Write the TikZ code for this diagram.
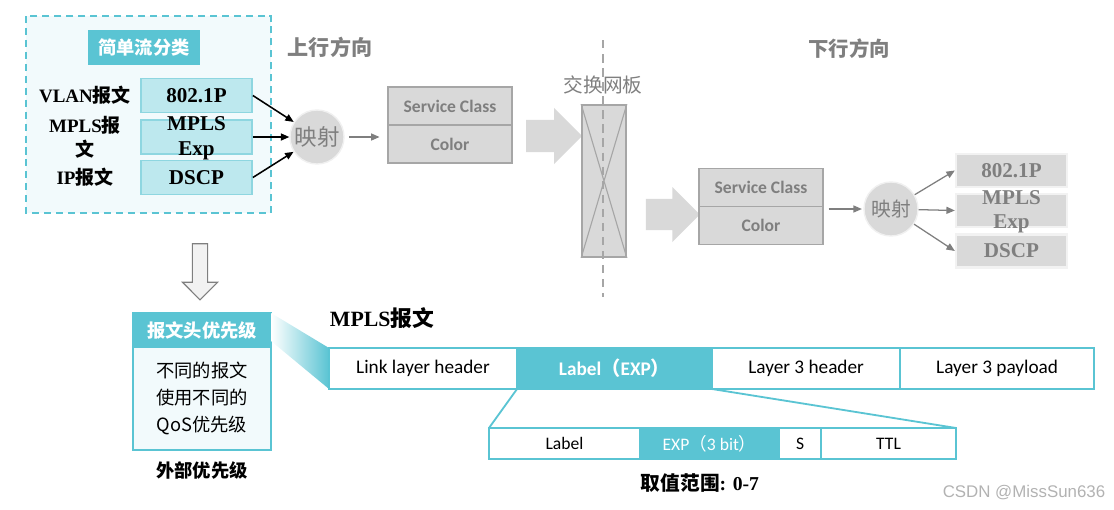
\documentclass[tikz,border=0pt]{standalone}
\usepackage{fontspec}
\usepackage{tikz}
\usetikzlibrary{shapes.geometric, shapes.arrows, arrows.meta, positioning, calc}
\setmainfont{Liberation Serif}
\newfontfamily\zhfont{Noto Sans CJK SC}
\newfontfamily\calfont{Carlito}
\newfontfamily\wmfont{Liberation Sans}
\definecolor{QosTeal}{HTML}{5AC4D3}
\definecolor{PaleTeal}{HTML}{BDE8EE}
\definecolor{EdgeTeal}{HTML}{8ED6E0}
\definecolor{IceBlue}{HTML}{F2FAFC}
\definecolor{SoftGray}{HTML}{D9D9D9}
\definecolor{LineGray}{HTML}{A6A6A6}
\definecolor{TextGray}{HTML}{7F7F7F}
\newcommand{\fsz}[2]{\fontsize{#1pt}{#2pt}\selectfont}
\newcommand{\twoline}[2]{\smash{\raisebox{-4.5pt}{\begin{tabular}{@{}c@{}}#1\\#2\end{tabular}}}}
\tikzset{
    inpkt/.style={font=\fsz{13.5}{17}\bfseries},
    classbox/.style={draw=EdgeTeal, line width=1.2pt, fill=PaleTeal, minimum width=2.775cm,
                     minimum height=0.85cm, inner sep=0pt, font=\fsz{15}{17.5}\bfseries},
    outbox/.style={draw=gray!10, line width=1.6pt, fill=SoftGray, text=TextGray, minimum width=2.775cm,
                   minimum height=0.825cm, inner sep=0pt, font=\fsz{15}{17}\bfseries},
    scbox/.style={draw=LineGray, line width=1pt, fill=SoftGray, text=TextGray, minimum width=3.1cm,
                  minimum height=0.95cm, inner sep=0pt, outer sep=0pt, font=\calfont\fsz{12.5}{12.5}\bfseries},
    mapper/.style={circle, fill=SoftGray, draw=gray!12, line width=1pt, minimum size=1.35cm,
                   inner sep=0pt, text=TextGray, font=\zhfont\fsz{16}{16}},
    blockarrow/.style={single arrow, fill=SoftGray, inner xsep=0pt, minimum height=1.4cm, minimum width=1.4cm},
    field/.style={draw=QosTeal, line width=1.3pt, minimum height=1.025cm, inner sep=0pt, outer sep=0pt,
                  font=\calfont\fsz{13.7}{13.7}},
    subfield/.style={field, minimum height=0.775cm, font=\calfont\fsz{12.5}{12.5}},
    link/.style={-{Triangle[length=6pt,width=5pt]}, line width=1.1pt},
    graylink/.style={link, TextGray, line width=0.9pt},
}

\begin{document}
\begin{tikzpicture}[x=0.025cm, y=-0.025cm]
    \useasboundingbox (0,0) rectangle (1114,509);

    % Simple traffic classification
    \draw[QosTeal, line width=1.4pt, dash pattern=on 5pt off 3.5pt, fill=IceBlue] (26,16) rectangle (271,213);
    \node[fill=QosTeal, text=white, minimum width=2.8cm, minimum height=0.875cm,
          font=\zhfont\fsz{13}{13}\bfseries] (clshead) at (144,47.5) {简单流分类};

    \node[inpkt] (vlanpkt) at (85,95.5) {VLAN{\zhfont 报文}};
    \node[inpkt, align=center] (mplspkt) at (85,137) {MPLS{\zhfont 报}\\{\zhfont 文}};
    \node[inpkt] (ippkt) at (85,177.5) {IP{\zhfont 报文}};

    \node[classbox] (dotp) at (196.5,95.5) {802.1P};
    \node[classbox] (mplsexp) at (196.5,137) {\twoline{MPLS}{Exp}};
    \node[classbox] (dscp) at (196.5,177.5) {DSCP};

    % Upstream mapping
    \node[mapper] (mapup) at (317,137) {映射};
    \draw[link] (dotp.east) -- (mapup);
    \draw[link] (mplsexp.east) -- (mapup);
    \draw[link] (dscp.east) -- (mapup);

    \node[text=TextGray, font=\zhfont\fsz{15}{15}\bfseries] (upname) at (330,47) {上行方向};
    \node[scbox] (scup) at (450,106) {Service Class};
    \node[scbox, below=0pt of scup] (colorup) {Color};
    \draw[graylink, shorten <=3pt, shorten >=6pt] (mapup.east) -- (mapup.east -| colorup.west);

    % Switch fabric
    \node[blockarrow, inner ysep=0.3375cm] (pushup) at (546,136) {};
    \node[text=TextGray, font=\zhfont\fsz{14}{14}] (fabricname) at (603,85) {交换网板};
    \node[draw=LineGray, line width=1.2pt, fill=SoftGray, minimum width=1.1cm, minimum height=3.8cm,
          inner sep=0pt] (fabric) at (604,181) {};
    \draw[LineGray, line width=0.8pt] (fabric.north west) -- (fabric.south east)
                                      (fabric.north east) -- (fabric.south west);
    \coordinate (divtop) at (603,40);
    \coordinate (divbot) at (603,297);
    \draw[LineGray, line width=1.1pt, dash pattern=on 6pt off 4pt] (divtop) -- (divbot);
    \node[blockarrow, inner ysep=0.325cm, minimum height=1.35cm, minimum width=1.375cm] (pushdown) at (665,214.5) {};

    % Downstream mapping
    \node[text=TextGray, font=\zhfont\fsz{14.5}{14.5}\bfseries] (downname) at (849,49) {下行方向};
    \node[scbox] (scdown) at (761,187.5) {Service Class};
    \node[scbox, below=0pt of scdown] (colordown) {Color};
    \node[mapper, font=\zhfont\fsz{14}{14}] (mapdown) at (891,209) {映射};
    \draw[graylink, shorten <=4pt, shorten >=1pt] (scdown.south east |- mapdown) -- (mapdown);

    \node[outbox] (outdotp) at (1011.5,170.5) {802.1P};
    \node[outbox] (outexp) at (1011.5,210.5) {\twoline{MPLS}{Exp}};
    \node[outbox] (outdscp) at (1011.5,251) {DSCP};
    \draw[graylink] (mapdown) -- (outdotp.west);
    \draw[graylink] (mapdown) -- (outexp.west);
    \draw[graylink] (mapdown) -- (outdscp.west);

    % Header priority
    \node[single arrow, draw=TextGray, fill=gray!10, line width=0.8pt, rotate=-90, minimum height=1.4cm,
          minimum width=0.8cm, inner xsep=0pt, inner ysep=0.175cm] (todetail) at (200,268) {};
    \node[draw=QosTeal, line width=1.3pt, fill=QosTeal, text=white, minimum width=3.45cm, minimum height=0.85cm,
          outer sep=0pt, font=\zhfont\fsz{13}{13}\bfseries] (prihead) at (202,330) {报文头优先级};
    \node[draw=QosTeal, line width=1.3pt, fill=IceBlue, minimum width=3.45cm, minimum height=2.575cm,
          outer sep=0pt, below=0pt of prihead, align=center, font=\zhfont\fsz{13}{19.2}] (pribody) {不同的报文\\使用不同的\\QoS优先级};
    \node[font=\zhfont\fsz{13}{13}\bfseries] (extpri) at (202,470) {外部优先级};

    % MPLS packet layout
    \node[anchor=west, font=\fsz{15.5}{15.5}\bfseries] (mplsname) at (325,318) {MPLS{\zhfont 报文}};
    \shade[left color=white, right color=QosTeal] (prihead.north east) -- (329,348) -- (329,389) -- (271,341) -- cycle;
    \node[field, minimum width=4.7cm] (linkhdr) at (423,368.5) {Link layer header};
    \node[field, fill=QosTeal, text=white, minimum width=4.875cm, right=0pt of linkhdr,
          font=\calfont\fsz{13.7}{13.7}\bfseries] (labelexp) {Label{\zhfont （}EXP{\zhfont ）}};
    \node[field, minimum width=4.7cm, right=0pt of labelexp] (l3hdr) {Layer 3 header};
    \node[field, minimum width=4.85cm, right=0pt of l3hdr] (l3load) {Layer 3 payload};

    \node[subfield, minimum width=3.775cm] (sublabel) at (564.5,443.5) {Label};
    \node[subfield, fill=QosTeal, text=white, minimum width=3.475cm, right=0pt of sublabel] (subexp) {EXP{\zhfont （}3 bit{\zhfont ）}};
    \node[subfield, minimum width=1.05cm, right=0pt of subexp] (subs) {S};
    \node[subfield, minimum width=3.375cm, right=0pt of subs] (subttl) {TTL};
    \draw[QosTeal, line width=1.3pt] (labelexp.south west) -- (sublabel.north west)
                                     (labelexp.south east) -- (subttl.north east);

    \node[font=\fsz{14}{14}\bfseries] (range) at (700,483) {{\zhfont 取值范围}: 0-7};
    \node[font=\wmfont\fsz{12}{12}, text=gray!60] (mark) at (1024,493) {CSDN @MissSun636};
\end{tikzpicture}
\end{document}
